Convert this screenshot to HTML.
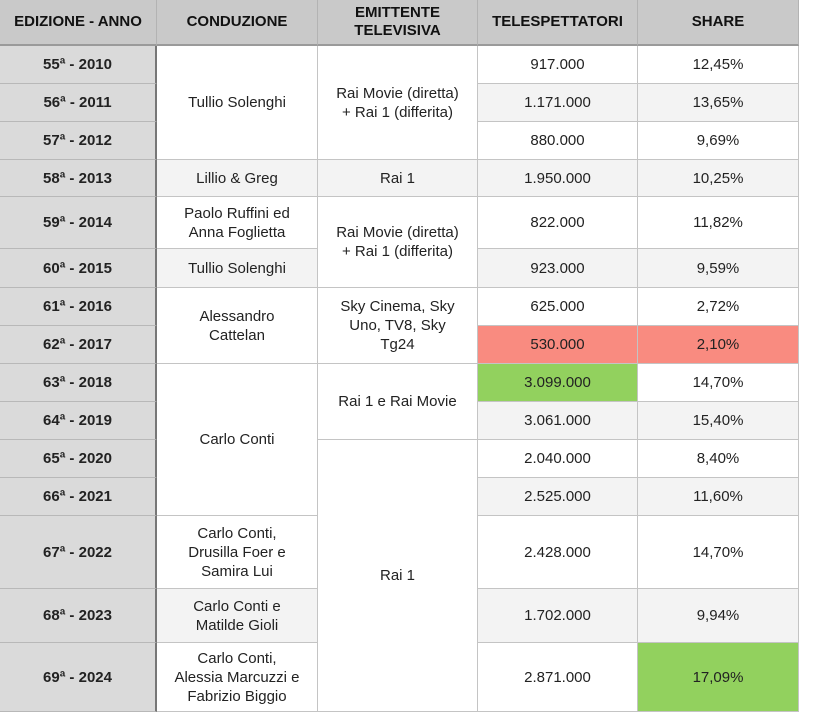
<!DOCTYPE html>
<html><head><meta charset="utf-8"><style>
body{margin:0;width:820px;height:711px;background:#fff;overflow:hidden;font-family:"Liberation Sans",sans-serif;}
#t{position:absolute;left:0;top:0;width:820px;height:711px;}
.c{position:absolute;box-sizing:border-box;display:flex;align-items:center;justify-content:center;text-align:center;font-size:15px;color:#222;line-height:19px;border-right:1px solid #c4c4c4;border-bottom:1px solid #c4c4c4;}
.h{background:#c9c9c9;font-weight:bold;color:#111;border-bottom:2px solid #9a9a9a;border-right:1px solid #b3b3b3;line-height:18px;}
.e{background:#dadada;font-weight:bold;border-right:2px solid #777;border-bottom:1px solid #b8b8b8;}
.g{background:#f3f3f3;}
</style></head><body>
<div id="t"></div>
<script>
const colX=[0,157,318,478,638,799];
const rowY=[0,46,84,122,160,197,249,288,326,364,402,440,478,516,589,643,712];
const headers=["EDIZIONE - ANNO","CONDUZIONE","EMITTENTE<br>TELEVISIVA","TELESPETTATORI","SHARE"];
const editions=["55ª - 2010","56ª - 2011","57ª - 2012","58ª - 2013","59ª - 2014","60ª - 2015","61ª - 2016","62ª - 2017","63ª - 2018","64ª - 2019","65ª - 2020","66ª - 2021","67ª - 2022","68ª - 2023","69ª - 2024"];
const viewers=["917.000","1.171.000","880.000","1.950.000","822.000","923.000","625.000","530.000","3.099.000","3.061.000","2.040.000","2.525.000","2.428.000","1.702.000","2.871.000"];
const shares=["12,45%","13,65%","9,69%","10,25%","11,82%","9,59%","2,72%","2,10%","14,70%","15,40%","8,40%","11,60%","14,70%","9,94%","17,09%"];
const hosts=[[0,3,"Tullio Solenghi"],[3,1,"Lillio &amp; Greg"],[4,1,"Paolo Ruffini ed<br>Anna Foglietta"],[5,1,"Tullio Solenghi"],[6,2,"Alessandro<br>Cattelan"],[8,4,"Carlo Conti"],[12,1,"Carlo Conti,<br>Drusilla Foer e<br>Samira Lui"],[13,1,"Carlo Conti e<br>Matilde Gioli"],[14,1,"Carlo Conti,<br>Alessia Marcuzzi e<br>Fabrizio Biggio"]];
const networks=[[0,3,"Rai Movie (diretta)<br>+ Rai 1 (differita)"],[3,1,"Rai 1"],[4,2,"Rai Movie (diretta)<br>+ Rai 1 (differita)"],[6,2,"Sky Cinema, Sky<br>Uno, TV8, Sky<br>Tg24"],[8,2,"Rai 1 e Rai Movie"],[10,5,"Rai 1"]];
const T=document.getElementById('t');
function cell(col,r0,span,html,cls,name){
  const d=document.createElement('div');
  d.className='c '+cls;
  d.style.left=colX[col]+'px';d.style.width=(colX[col+1]-colX[col])+'px';
  d.style.top=rowY[r0]+'px';d.style.height=(rowY[r0+span]-rowY[r0])+'px';
  d.innerHTML=html;
  
  
  T.appendChild(d);return d;
}
headers.forEach((h,i)=>cell(i,0,1,h,'h','header-'+i));
editions.forEach((e,i)=>cell(0,i+1,1,e,'e','edition-'+i));
hosts.forEach(([r,s,h],i)=>cell(1,r+1,s,h,(s==1&&r%2==1)?'g':'','host-'+i));
networks.forEach(([r,s,h],i)=>cell(2,r+1,s,h,(s==1&&r%2==1)?'g':'','network-'+i));
const vmax=viewers.map(v=>+v.replace(/\./g,''));
const smax=shares.map(v=>+v.replace('%','').replace(',','.'));
viewers.forEach((v,i)=>{const d=cell(3,i+1,1,v,i%2==1?'g':'','viewers-'+i);
  if(vmax[i]===Math.max(...vmax))d.style.background='#92d15e';
  if(vmax[i]===Math.min(...vmax))d.style.background='#f98b80';});
shares.forEach((v,i)=>{const d=cell(4,i+1,1,v,i%2==1?'g':'','share-'+i);
  if(smax[i]===Math.max(...smax))d.style.background='#92d15e';
  if(smax[i]===Math.min(...smax))d.style.background='#f98b80';});
</script>
</body></html>
